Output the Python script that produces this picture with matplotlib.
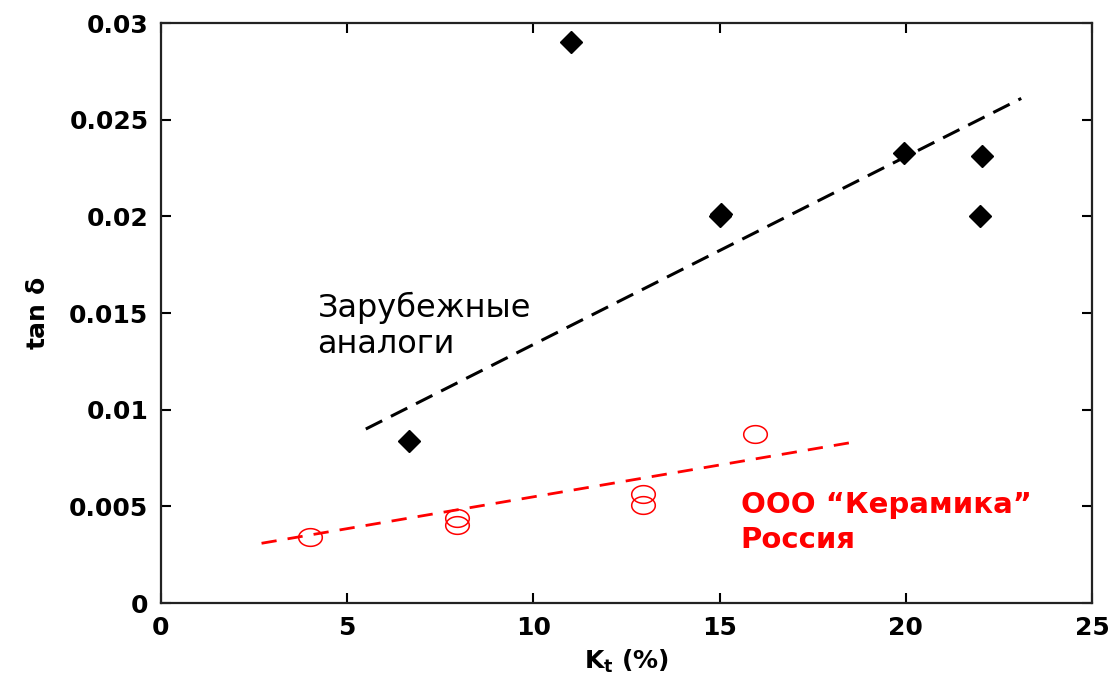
import numpy as np
import matplotlib
matplotlib.use("Agg")
import matplotlib.pyplot as plt
from matplotlib.path import Path

plt.rcParams['font.family'] = ['DejaVu Sans']
plt.rcParams['mathtext.fontset'] = 'dejavusans'

# foreign analogues (black diamonds)
kt_foreign = [6.65, 11.0, 15.0, 15.05, 19.95, 22.05, 22.0]
tan_foreign = [0.0084, 0.0290, 0.0200, 0.0201, 0.0233, 0.0231, 0.0200]
fit_foreign_x = [5.5, 23.1]
fit_foreign_y = [0.0090, 0.0261]

# OOO "Keramika" (red circles)
kt_russia = [4.0, 7.95, 7.95, 12.95, 12.95, 15.95]
tan_russia = [0.00343, 0.00440, 0.00405, 0.00565, 0.00505, 0.00872]
fit_russia_x = [2.7, 18.65]
fit_russia_y = [0.00309, 0.00834]

x_ticks = [0, 5, 10, 15, 20, 25]
y_ticks = [0, 0.005, 0.01, 0.015, 0.02, 0.025, 0.03]
y_ticklabels = ['0', '0.005', '0.01', '0.015', '0.02', '0.025', '0.03']

# slightly wide ellipse, the original picture is stretched
t = np.linspace(0, 2 * np.pi, 60)
ellipse = Path(np.column_stack([np.cos(t), 0.75 * np.sin(t)]))

fig = plt.figure(figsize=(11.11, 6.83), dpi=100)
ax = fig.add_axes([0.1449, 0.1171, 0.838, 0.8492])

ax.plot(fit_foreign_x, fit_foreign_y, color='black', lw=2.2, dashes=(6, 3.2))
ax.plot(fit_russia_x, fit_russia_y, color='red', lw=2.0, dashes=(5.5, 4))
ax.plot(kt_foreign, tan_foreign, 'D', color='black', ms=11, ls='none')
ax.plot(kt_russia, tan_russia, marker=ellipse, ls='none', ms=17,
        mfc='none', mec='red', mew=1.1)

ax.set_xlim(0, 25)
ax.set_ylim(0, 0.03)
ax.set_xticks(x_ticks)
ax.set_yticks(y_ticks)
ax.set_yticklabels(y_ticklabels)
ax.tick_params(direction='in', length=7, width=1.5, top=True, right=True,
               labelsize=18, pad=9)
for lab in ax.get_xticklabels() + ax.get_yticklabels():
    lab.set_fontweight('bold')
for s in ax.spines.values():
    s.set_linewidth(1.6)
    s.set_color('#222222')

ax.set_xlabel(r'$\mathbf{K_t}$ (%)', fontsize=18, fontweight='bold', labelpad=6)
ax.set_ylabel(r'tan $\mathregular{\delta}$', fontsize=18, fontweight='bold', labelpad=14)

# baseline = baseline of the last line
ax.text(4.2, 0.01293, 'Зарубежные\nаналоги', fontsize=23, color='black',
        linespacing=1.22, va='baseline')
ax.text(15.57, 0.00284, 'ООО “Керамика”\nРоссия', fontsize=21, color='red',
        fontweight='bold', linespacing=1.32, va='baseline')

fig.savefig('out.png', dpi=100)
